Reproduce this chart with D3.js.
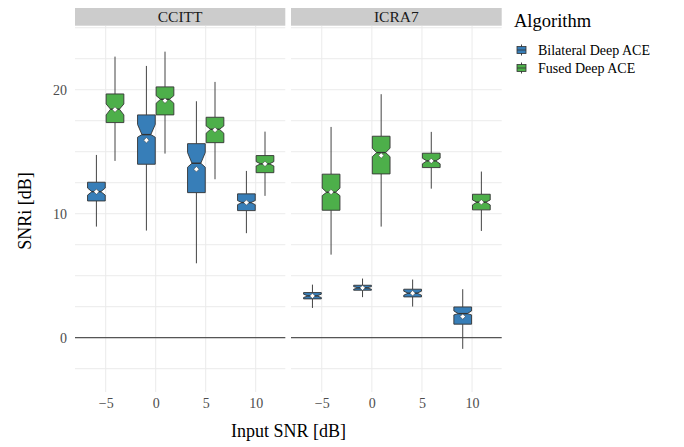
<!DOCTYPE html>
<html>
<head>
<meta charset="utf-8">
<script src="https://cdn.jsdelivr.net/npm/d3@7"></script>
<style>
  html, body { margin: 0; padding: 0; background: #fff; }
  svg { display: block; }
  text { font-family: "Liberation Serif", "Times New Roman", serif; }
</style>
</head>
<body>
<svg id="chart" width="684" height="447"></svg>
<script>
// Input SNR levels (x positions) and grouping
const inputSNR = [-5, 0, 5, 10];
const datasets = ["CCITT", "ICRA7"];
const algorithms = ["Bilateral Deep ACE", "Fused Deep ACE"];
const algoColors = ["#377EB8", "#4DAF4A"];

// Box summaries per input SNR:
// [lower whisker, Q1, notch low, median, notch high, Q3, upper whisker, mean]
const ccittBilateral = [
  [8.96, 11.03, 11.50, 11.78, 12.07, 12.54, 14.74, 11.78],
  [8.64, 13.99, 16.17, 16.38, 17.20, 17.97, 21.92, 15.93],
  [6.00, 11.70, 13.75, 14.07, 14.93, 15.65, 19.07, 13.59],
  [8.43, 10.25, 10.73, 10.90, 11.06, 11.60, 13.45, 10.90]
];
const ccittFused = [
  [14.26, 17.35, 17.97, 18.43, 18.85, 19.66, 22.67, 18.40],
  [14.85, 17.97, 18.91, 19.23, 19.52, 20.23, 23.07, 19.12],
  [12.78, 15.73, 16.49, 16.81, 17.08, 17.78, 20.63, 16.76],
  [11.44, 13.31, 13.85, 14.02, 14.20, 14.69, 16.62, 14.02]
];
const icraBilateral = [
  [2.40, 3.13, 3.24, 3.37, 3.51, 3.64, 4.28, 3.37],
  [3.27, 3.83, 3.91, 4.02, 4.12, 4.23, 4.77, 4.02],
  [2.51, 3.29, 3.43, 3.59, 3.75, 3.91, 4.69, 3.59],
  [-0.90, 1.09, 1.84, 1.94, 2.16, 2.48, 3.91, 1.70]
];
const icraFused = [
  [6.70, 10.28, 11.46, 11.73, 12.06, 13.19, 17.00, 11.75],
  [8.96, 13.21, 14.60, 14.93, 15.28, 16.25, 19.64, 14.69],
  [12.02, 13.72, 14.02, 14.26, 14.48, 14.88, 16.60, 14.26],
  [8.61, 10.31, 10.71, 10.93, 11.11, 11.57, 13.40, 10.93]
];

// Axis breaks
const yGridBreaks = [-2.5, 0, 2.5, 5, 7.5, 10, 12.5, 15, 17.5, 20, 22.5, 25];
const yLabelBreaks = [0, 10, 20];
const xBreaks = [-5, 0, 5, 10];

const seriesByPanel = [
  [ccittBilateral, ccittFused],
  [icraBilateral, icraFused]
];

const svg = d3.select("#chart");

const panelTop = 26, panelBottom = 392;
const panelRanges = [[75, 285.3], [291, 501.7]];
const stripTop = 8, stripBottom = 25.7;

const y = d3.scaleLinear().domain([-4.38, 25.14]).range([panelBottom, panelTop]);

const dodge = 0.93;      // horizontal offset of each algorithm from the SNR value
const halfWidth = 0.885; // half box width in x units
const notchFrac = 0.5;   // notch narrows to half the box width

function styleTickText(sel) {
  sel.style("font-family", "'Liberation Serif', 'Times New Roman', serif")
     .style("font-size", "14px")
     .attr("fill", "#4D4D4D");
}

datasets.forEach((name, pi) => {
  const [x0, x1] = panelRanges[pi];
  const x = d3.scaleLinear().domain([-8.07, 12.96]).range([x0, x1]);
  const g = svg.append("g");

  // strip
  g.append("rect")
    .attr("x", x0).attr("y", stripTop)
    .attr("width", x1 - x0).attr("height", stripBottom - stripTop)
    .attr("fill", "#CCCCCC");
  g.append("text")
    .attr("x", (x0 + x1) / 2).attr("y", 22)
    .attr("text-anchor", "middle")
    .style("font-size", "15.5px").attr("fill", "#1A1A1A")
    .text(name);

  // grid
  g.selectAll("line.hgrid").data(yGridBreaks).join("line")
    .attr("x1", x0).attr("x2", x1)
    .attr("y1", d => y(d)).attr("y2", d => y(d))
    .attr("stroke", "#EBEBEB").attr("stroke-width", 1);
  g.selectAll("line.vgrid").data(xBreaks).join("line")
    .attr("x1", d => x(d)).attr("x2", d => x(d))
    .attr("y1", panelTop).attr("y2", panelBottom)
    .attr("stroke", "#EBEBEB").attr("stroke-width", 1);

  // zero reference line
  g.append("line")
    .attr("x1", x0).attr("x2", x1)
    .attr("y1", y(0)).attr("y2", y(0))
    .attr("stroke", "#555").attr("stroke-width", 1.2);

  // boxes
  seriesByPanel[pi].forEach((series, ai) => {
    const color = algoColors[ai];
    const off = ai === 0 ? -dodge : dodge;
    series.forEach((s, si) => {
      const [lo, q1, nLo, med, nHi, q3, hi, mean] = s;
      const cx = inputSNR[si] + off;
      const xl = x(cx - halfWidth), xr = x(cx + halfWidth), xc = x(cx);
      const nl = x(cx - halfWidth * notchFrac), nr = x(cx + halfWidth * notchFrac);

      g.append("line")
        .attr("x1", xc).attr("x2", xc)
        .attr("y1", y(hi)).attr("y2", y(q3))
        .attr("stroke", "#444").attr("stroke-width", 1);
      g.append("line")
        .attr("x1", xc).attr("x2", xc)
        .attr("y1", y(q1)).attr("y2", y(lo))
        .attr("stroke", "#444").attr("stroke-width", 1);

      const pts = [
        [xl, y(q3)], [xr, y(q3)], [xr, y(nHi)], [nr, y(med)], [xr, y(nLo)],
        [xr, y(q1)], [xl, y(q1)], [xl, y(nLo)], [nl, y(med)], [xl, y(nHi)]
      ];
      g.append("path")
        .attr("d", d3.line()(pts) + "Z")
        .attr("fill", color).attr("stroke", "#333").attr("stroke-width", 0.9);

      g.append("line")
        .attr("x1", nl).attr("x2", nr)
        .attr("y1", y(med)).attr("y2", y(med))
        .attr("stroke", "#333").attr("stroke-width", 1.4);

      const my = y(mean), r = 2.7;
      g.append("path")
        .attr("d", `M${xc},${my - r}L${xc + r},${my}L${xc},${my + r}L${xc - r},${my}Z`)
        .attr("fill", "#fff").attr("stroke", "#333").attr("stroke-width", 0.5);
    });
  });

  // x axis
  const xAxis = d3.axisBottom(x).tickValues(xBreaks).tickSize(0).tickPadding(0);
  const ax = svg.append("g").attr("transform", `translate(0,${panelBottom})`).call(xAxis);
  ax.select(".domain").remove();
  ax.selectAll("text").attr("y", 16).attr("dy", null).call(styleTickText);
});

// y axis
const yAxis = d3.axisLeft(y).tickValues(yLabelBreaks).tickSize(0).tickPadding(0);
const ay = svg.append("g").attr("transform", `translate(67,0)`).call(yAxis);
ay.select(".domain").remove();
ay.selectAll("text").attr("dy", "0.35em").call(styleTickText);

// axis titles
svg.append("text")
  .attr("x", 288.5).attr("y", 437)
  .attr("text-anchor", "middle").style("font-size", "18px").attr("fill", "#000")
  .text("Input SNR [dB]");
svg.append("text")
  .attr("transform", "translate(31,211) rotate(-90)")
  .attr("text-anchor", "middle").style("font-size", "18px").attr("fill", "#000")
  .text("SNRi [dB]");

// legend
const legend = svg.append("g");
legend.append("text")
  .attr("x", 514).attr("y", 27)
  .style("font-size", "18.5px").attr("fill", "#000")
  .text("Algorithm");
algorithms.forEach((name, i) => {
  const cy = 50 + i * 18;
  const kx = 521.5;
  legend.append("line")
    .attr("x1", kx).attr("x2", kx).attr("y1", cy - 5.5).attr("y2", cy + 5.5)
    .attr("stroke", "#444").attr("stroke-width", 1);
  legend.append("rect")
    .attr("x", kx - 4.5).attr("y", cy - 3.5).attr("width", 9).attr("height", 7)
    .attr("fill", algoColors[i]).attr("stroke", "#333").attr("stroke-width", 0.8);
  legend.append("line")
    .attr("x1", kx - 4.5).attr("x2", kx + 4.5).attr("y1", cy).attr("y2", cy)
    .attr("stroke", "#333").attr("stroke-width", 0.8);
  legend.append("text")
    .attr("x", 538).attr("y", cy + 4.8)
    .style("font-size", "14px").attr("fill", "#000")
    .text(name);
});
</script>
</body>
</html>
